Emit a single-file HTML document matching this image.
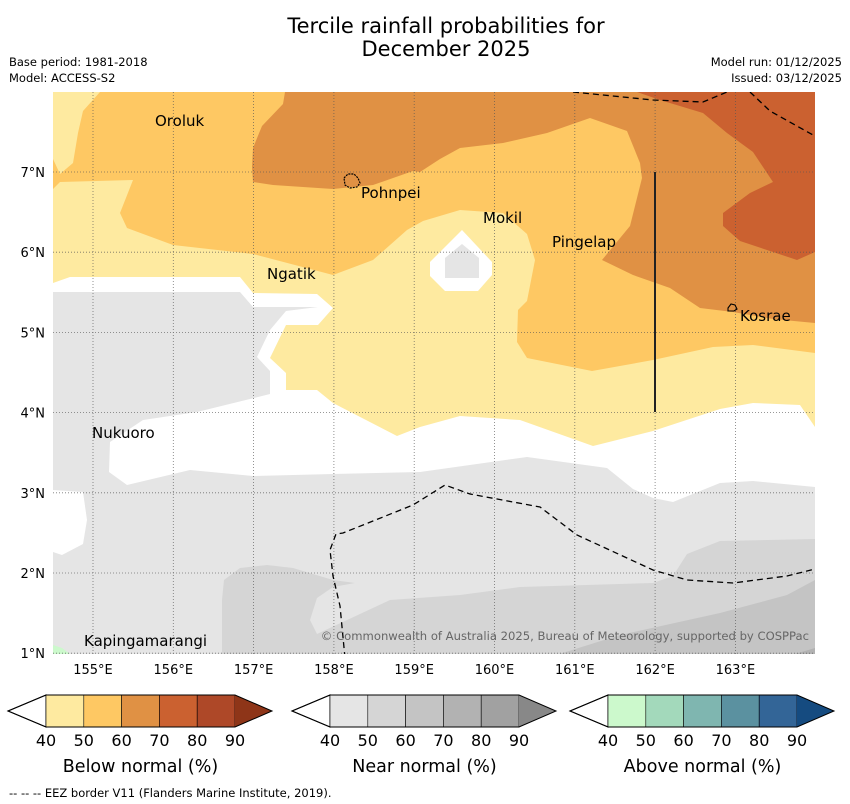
<!DOCTYPE html>
<html><head><meta charset="utf-8">
<style>
html,body{margin:0;padding:0;background:#fff;}
svg{display:block;font-family:"DejaVu Sans","Liberation Sans",sans-serif;}
</style></head>
<body>
<svg id="fig" width="850" height="804" viewBox="0 0 850 804" xmlns="http://www.w3.org/2000/svg">
  <text x="446" y="33" font-size="21" text-anchor="middle" fill="#000">Tercile rainfall probabilities for</text>
  <text x="446" y="56" font-size="21" text-anchor="middle" fill="#000">December 2025</text>
  <text x="9" y="66" font-size="11.5" fill="#000">Base period: 1981-2018</text>
  <text x="9" y="82" font-size="11.5" fill="#000">Model: ACCESS-S2</text>
  <text x="842" y="66" font-size="11.5" text-anchor="end" fill="#000">Model run: 01/12/2025</text>
  <text x="842" y="82" font-size="11.5" text-anchor="end" fill="#000">Issued: 03/12/2025</text>

  <defs><clipPath id="mapclip"><rect x="53" y="92" width="762" height="562"/></clipPath></defs>
  <g clip-path="url(#mapclip)">
    <rect x="53" y="92" width="762" height="562" fill="#ffffff"/>
    <polygon fill="#e5e5e5" points="53,292 240,292 253,307 318,307 286,311 270,330 257,357 270,371 270,394 197,412 143,420 110,442 109,472 127,485 190,470 253,476 333,474 420,472 527,457 607,468 633,489 653,498 673,502 720,483 753,481 815,487 815,654 53,654"/>
    <polygon fill="#ffffff" points="53,490 83,492 87,520 83,544 62,555 53,552"/>
    <polygon fill="#d5d5d5" points="222,600 224,580 240,568 267,565 293,568 333,580 355,583 333,587 317,598 310,620 317,634 390,600 460,595 520,587 653,583 673,576 687,554 720,541 815,539 815,654 222,654"/>
    <polygon fill="#c4c4c4" points="553,656 620,635 720,613 787,595 815,580 815,656"/>
    <polygon fill="#b2b2b2" points="795,654 815,648 815,656"/>
    <polygon fill="#ccf9cc" points="53,645 62,648 70,654 53,654"/>
    <polygon fill="#feeaa0" points="53,92 815,92 815,427 800,405 753,403 720,409 653,431 593,446 520,420 460,416 420,427 397,436 333,403 317,390 286,390 286,373 270,358 286,325 318,325 333,308 317,294 253,293 240,277 70,277 53,283"/>
    <polygon fill="#ffffff" points="462,230 492,262 492,275 478,291 445,291 430,276 430,262"/>
    <polygon fill="#e5e5e5" points="462,244 479,258 479,278 445,278 445,258"/>
    <polygon fill="#fec863" points="100,92 815,92 815,353 753,345 713,347 653,360 592,371 527,358 517,342 518,310 527,301 535,260 527,234 503,213 460,210 423,221 407,230 373,260 333,275 253,254 173,245 127,228 120,213 133,180 60,182 53,189 53,159 60,174 73,163 78,133 83,111"/>
    <polygon fill="#e09144" points="285,92 815,92 815,323 773,319 733,312 700,308 670,288 633,275 602,260 630,226 642,178 640,163 627,131 590,118 547,133 503,143 460,148 440,159 420,172 413,171 373,185 333,189 273,185 253,182 252,167 253,148 262,126 283,104"/>
    <polygon fill="#cb6130" points="637,92 660,100 703,113 727,133 753,152 773,182 750,193 723,213 723,226 740,241 773,252 797,260 815,252 815,92"/>
    <g id="grid" stroke="#555" stroke-width="0.8" stroke-dasharray="1,2" opacity="0.8"></g>
    <polyline points="573,92 653,100 703,102 727,92" fill="none" stroke="#000" stroke-width="1.3" stroke-dasharray="6,4"/>
    <polyline points="750,92 770,111 813,135" fill="none" stroke="#000" stroke-width="1.3" stroke-dasharray="6,4"/>
    <polyline points="345,658 340,606 333,576 330,550 336,534 343,533 413,505 445,485 470,494 540,507 577,535 653,570 687,580 733,583 787,576 815,569" fill="none" stroke="#000" stroke-width="1.3" stroke-dasharray="6,4"/>
    <line x1="655" y1="172" x2="655" y2="412" stroke="#222" stroke-width="2"/>
    <path d="M344,178 l4,-4 l6,0 l4,4 l2,5 l-3,4 l-7,1 l-5,-3 z" fill="none" stroke="#000" stroke-width="1.2" stroke-dasharray="2,1"/>
    <path d="M728,308 l3,-4 l4,1 l2,4 l-3,2 l-6,0 z" fill="none" stroke="#000" stroke-width="1.1"/>
    <g font-size="15" fill="#000">
      <text x="155" y="126">Oroluk</text>
      <text x="361" y="198">Pohnpei</text>
      <text x="483" y="223">Mokil</text>
      <text x="552" y="247">Pingelap</text>
      <text x="267" y="279">Ngatik</text>
      <text x="740" y="321">Kosrae</text>
      <text x="92" y="438">Nukuoro</text>
      <text x="84" y="646">Kapingamarangi</text>
    </g>
    <text x="809" y="640" font-size="11.6" text-anchor="end" fill="#666">© Commonwealth of Australia 2025, Bureau of Meteorology, supported by COSPPac</text>
  </g>
  <g id="axes" font-size="13" fill="#000"></g>
  <g id="cbars"></g>
  <text x="9" y="797" font-size="11.5" fill="#000">--  --  -- EEZ border V11 (Flanders Marine Institute, 2019).</text>
</svg>
<script>
const lonTicks = [155,156,157,158,159,160,161,162,163,164];
const latTicks = [1,2,3,4,5,6,7];
const cbTicks = [40,50,60,70,80,90];
const belowColors = ["#feeaa0","#fec863","#e09144","#cb6130","#ae4828"];
const nearColors = ["#e5e5e5","#d5d5d5","#c4c4c4","#b2b2b2","#a1a1a1"];
const aboveColors = ["#ccf9cc","#a3d9bb","#7fb6b0","#5b91a0","#336597"];
const extendColors = ["#8e3518","#888888","#154b80"];
const cbTitles = ["Below normal (%)","Near normal (%)","Above normal (%)"];

const NS="http://www.w3.org/2000/svg";
function xLon(l){return 93+(l-155)*80.3;}
function yLat(l){return 172+(7-l)*80.2;}
function mk(tag,attrs,parent){const e=document.createElementNS(NS,tag);for(const k in attrs)e.setAttribute(k,attrs[k]);parent.appendChild(e);return e;}

const grid=document.getElementById('grid');
const axes=document.getElementById('axes');
lonTicks.forEach(l=>{
  const ln=mk('line',{x1:xLon(l),x2:xLon(l),y1:92,y2:654},grid);
  
  
  if(l<164){
    const t=mk('text',{x:xLon(l),y:674,'text-anchor':'middle'},axes);
    t.textContent=l+'°E';
    
    
  }
});
latTicks.forEach(l=>{
  const ln=mk('line',{x1:53,x2:815,y1:yLat(l),y2:yLat(l)},grid);
  
  
  const t=mk('text',{x:45,y:yLat(l)+5,'text-anchor':'end'},axes);
  t.textContent=l+'°N';
  
  
});

const cb=document.getElementById('cbars');
const sets=[belowColors,nearColors,aboveColors];
const starts=[46,330,608];
const bw=37.8, y0=695, y1=727, ym=711;
sets.forEach((cols,i)=>{
  const s=starts[i], e=s+bw*cols.length;
  const g=mk('g',{},cb);
  
  
  const lt=mk('polygon',{points:`${s},${y0} ${s-38},${ym} ${s},${y1}`,fill:'#fff',stroke:'#000','stroke-width':1},g);
  
  
  cols.forEach((c,j)=>{
    const r=mk('rect',{x:s+j*bw,y:y0,width:bw,height:y1-y0,fill:c,stroke:'#000','stroke-width':0.6},g);
    
    
  });
  const rt=mk('polygon',{points:`${e},${y0} ${e+37},${ym} ${e},${y1}`,fill:extendColors[i]},g);
  
  
  const ol=mk('polygon',{points:`${s-38},${ym} ${s},${y0} ${e},${y0} ${e+37},${ym} ${e},${y1} ${s},${y1}`,fill:'none',stroke:'#000','stroke-width':1},g);
  
  
  cbTicks.forEach((v,j)=>{
    const t=mk('text',{x:s+j*bw,y:746,'text-anchor':'middle','font-size':16},g);
    t.textContent=v;
    
    
  });
  const tt=mk('text',{x:(s+e)/2,y:772,'text-anchor':'middle','font-size':17.5},g);
  tt.textContent=cbTitles[i];
  
  
});
</script>
</body></html>
